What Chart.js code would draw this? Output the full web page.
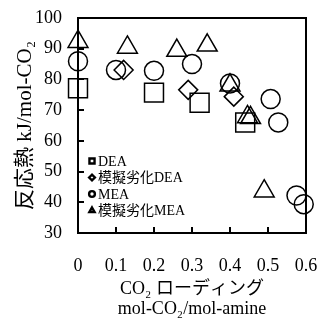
<!DOCTYPE html>
<html>
<head>
<meta charset="utf-8">
<script src="https://cdn.jsdelivr.net/npm/chart.js@4/dist/chart.umd.min.js"></script>
<style>
  html, body { margin: 0; padding: 0; background: #fff; }
  #wrap { width: 321px; height: 323px; }
</style>
</head>
<body>
<div id="wrap"><canvas id="grafico"></canvas></div>
<script>
// datos
const deaX = [0, 0.2, 0.32, 0.44];
const deaY = [77.1, 75.7, 72.4, 66.0];
const mdeaX = [0.12, 0.29, 0.41];
const mdeaY = [83.1, 76.6, 74.4];
const meaX = [0, 0.10, 0.20, 0.30, 0.40, 0.507, 0.527, 0.575, 0.594];
const meaY = [85.9, 83.1, 82.8, 85.0, 78.7, 73.6, 66.0, 42.2, 39.4];
const mmeaX = [0, 0.13, 0.26, 0.34, 0.40, 0.446, 0.454, 0.49];
const mmeaY = [92.3, 90.4, 89.4, 91.1, 78.1, 67.8, 67.5, 43.6];

const etiquetas = ['DEA', '模擬劣化DEA', 'MEA', '模擬劣化MEA'];
const estilos = ['rect', 'rectRot', 'circle', 'triangle'];
const radios = [13.4, 9.5, 9.5, 11.5];
const radiosLeyenda = [3.6, 2.9, 2.9, 3.0];

const fuente = "'Liberation Serif', 'Noto Sans CJK JP', serif";

function puntos(xs, ys) {
  return xs.map((x, i) => ({x: x, y: ys[i]}));
}

const series = [puntos(deaX, deaY), puntos(mdeaX, mdeaY), puntos(meaX, meaY), puntos(mmeaX, mmeaY)];

// marco y ticks hacia adentro + leyenda dentro del area
const marco = {
  id: 'marco',
  afterDraw(chart) {
    const {ctx, chartArea: a, scales} = chart;
    ctx.save();
    ctx.strokeStyle = '#000';
    ctx.lineWidth = 2;
    ctx.strokeRect(a.left, a.top, a.right - a.left, a.bottom - a.top);
    ctx.beginPath();
    scales.y.ticks.forEach(t => {
      if (t.value <= 30 || t.value >= 100) return;
      const py = Math.round(scales.y.getPixelForValue(t.value));
      ctx.moveTo(a.left, py);
      ctx.lineTo(a.left + 6, py);
    });
    scales.x.ticks.forEach(t => {
      if (t.value <= 0 || t.value >= 0.6) return;
      const px = Math.round(scales.x.getPixelForValue(t.value));
      ctx.moveTo(px, a.bottom);
      ctx.lineTo(px, a.bottom - 6);
    });
    ctx.stroke();

    ctx.font = '14px ' + fuente;
    ctx.textBaseline = 'middle';
    etiquetas.forEach((txt, i) => {
      const yy = a.bottom - 72 + i * 16.5;
      ctx.fillStyle = 'rgba(0,0,0,0)';
      ctx.strokeStyle = '#000';
      ctx.lineWidth = 2.4;
      Chart.helpers.drawPoint(ctx, {pointStyle: estilos[i], radius: radiosLeyenda[i], borderWidth: 2.4}, a.left + 14, yy);
      ctx.fillStyle = '#000';
      ctx.fillText(txt, a.left + 20, yy + 1);
    });
    ctx.restore();
  }
};

const ctxGrafico = document.getElementById('grafico');
new Chart(ctxGrafico, {
  type: 'scatter',
  data: {
    datasets: series.map((d, i) => ({
      label: etiquetas[i],
      data: d,
      pointStyle: estilos[i],
      pointRadius: radios[i],
      pointHoverRadius: radios[i],
      borderColor: '#000',
      backgroundColor: 'rgba(0,0,0,0)',
      pointBorderWidth: 1.5,
      clip: false
    }))
  },
  options: {
    responsive: true,
    maintainAspectRatio: false,
    animation: false,
    layout: {
      padding: {top: 18, right: 15, left: 0, bottom: 0}
    },
    plugins: {
      legend: {display: false},
      tooltip: {enabled: false}
    },
    scales: {
      x: {
        type: 'linear',
        min: 0,
        max: 0.6,
        grid: {display: false, drawTicks: false},
        border: {display: false},
        ticks: {stepSize: 0.1, color: '#000', padding: 22, font: {family: fuente, size: 18}},
        title: {
          display: true,
          text: ['CO₂ ローディング', 'mol-CO₂/mol-amine'],
          color: '#000',
          font: {family: fuente, size: 18, lineHeight: 1.15},
          padding: {top: 0, bottom: 3}
        },
        afterFit(scale) {
          scale.height = 90;
          scale.paddingLeft = 0;
          scale.paddingRight = 0;
        }
      },
      y: {
        min: 30,
        max: 100,
        grid: {display: false, drawTicks: false},
        border: {display: false},
        ticks: {stepSize: 10, color: '#000', padding: 16, font: {family: fuente, size: 18}},
        title: {
          display: true,
          text: '反応熱 kJ/mol-CO₂',
          color: '#000',
          font: {family: fuente, size: 21},
          padding: {top: 13, bottom: 0}
        },
        afterFit(scale) {
          scale.width = 78;
          scale.paddingTop = 0;
          scale.paddingBottom = 0;
        }
      }
    }
  },
  plugins: [marco]
});
</script>
</body>
</html>
